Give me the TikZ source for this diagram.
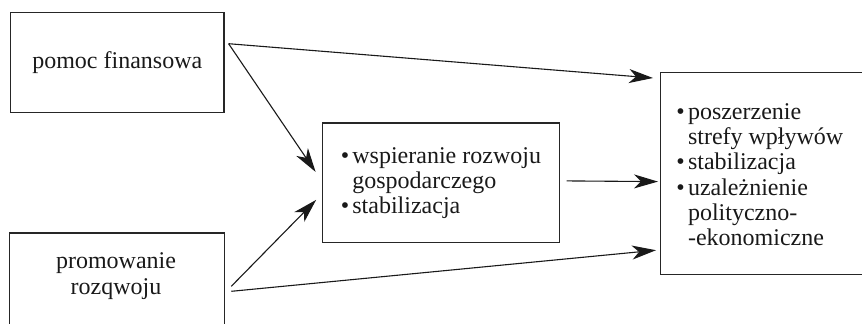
\documentclass[tikz,border=0pt]{standalone}
\usepackage{fontspec}
\setmainfont{Liberation Serif}
\usetikzlibrary{arrows.meta,calc}
\newcommand\bul{\leavevmode\hbox to 5.8pt{\textbullet\hss}}
\newcommand\ind{\leavevmode\hspace*{5.8pt}}
\begin{document}
\begin{tikzpicture}[x=0.5pt,y=-0.5pt,
  box/.style={draw=black!85,line width=0.6pt,inner sep=0pt},
  txt/.style={font=\fontsize{12}{12.6}\selectfont,text=black!90},
  arr/.style={draw=black!90,line width=0.55pt,-{Stealth[length=12pt,width=7pt,inset=3.5pt]}}]
\useasboundingbox (0,0) rectangle (862,323);
\clip (0,0) rectangle (862,323);
% boxes
\node[box,txt,minimum width=106.7pt,minimum height=49.9pt] (b1) at (117.3,62.2) {pomoc finansowa};
\node[box,anchor=north west,minimum width=107.7pt,minimum height=80pt] (b2) at (8.7,232.3) {};
\node[txt,align=center,inner sep=0pt] (t2) at (116,276) {promowanie\\ rozqwoju};
\node[box,txt,align=left,minimum width=118.2pt,minimum height=59.9pt] (b3) at (440.9,182.9)
  {\bul wspieranie rozwoju\\ \ind gospodarczego\\ \bul stabilizacja};
\node[box,anchor=north west,minimum width=200pt,minimum height=101pt] (b4) at (660,72) {};
\node[txt,align=left,inner sep=0pt,anchor=west] (t4) at ($(b4.west)+(16,1)$)
  {\bul poszerzenie\\ \ind strefy wpływów\\ \bul stabilizacja\\ \bul uzależnienie\\ \ind polityczno-\\ \ind -ekonomiczne};
% connector ends
\coordinate (s1) at ($(b1.north east)+(4,32)$);
\coordinate (s3) at ($(b2.north east)+(6,54)$);
\coordinate (s4) at ($(b2.north east)+(6,59)$);
\coordinate (s5) at ($(b3.east)+(7,-2)$);
\coordinate (e1) at ($(b4.north west)+(-7,6)$);
\coordinate (e2) at ($(b3.west)+(-6.5,-11)$);
\coordinate (e3) at ($(b3.west)+(-6,17)$);
\coordinate (e4) at ($(b4.south west)+(-4,-25)$);
\coordinate (e5) at ($(b4.west)+(-2,8)$);
% connectors
\draw[arr] (s1) -- (e1);
\draw[arr] (s1) -- (e2);
\draw[arr] (s3) -- (e3);
\draw[arr] (s4) -- (e4);
\draw[arr] (s5) -- (e5);
\end{tikzpicture}
\end{document}
